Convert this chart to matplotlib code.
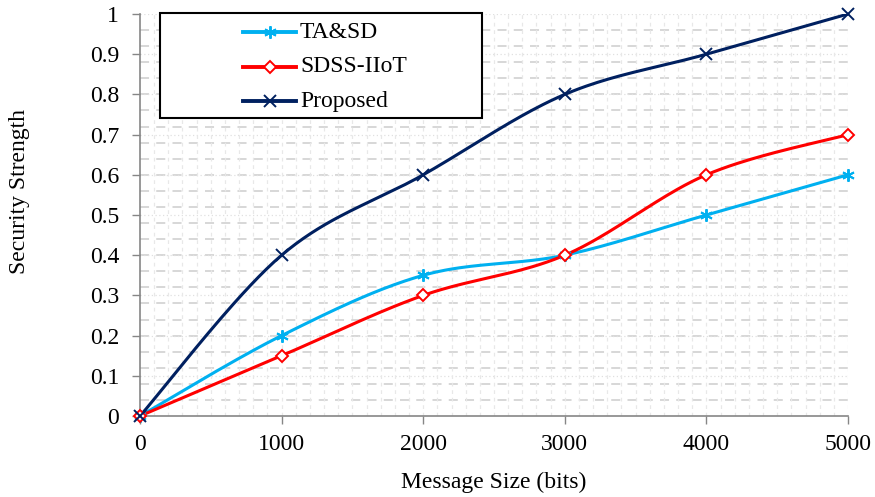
import numpy as np
import matplotlib
matplotlib.use("Agg")
import matplotlib.pyplot as plt
from matplotlib.patches import Rectangle
from matplotlib.lines import Line2D
from matplotlib.ticker import FixedLocator

# Data
message_size = [0, 1000, 2000, 3000, 4000, 5000]
ta_sd = [0, 0.2, 0.35, 0.4, 0.5, 0.6]
sdss_iiot = [0, 0.15, 0.3, 0.4, 0.6, 0.7]
proposed = [0, 0.4, 0.6, 0.8, 0.9, 1.0]
y_ticks = [0, 0.1, 0.2, 0.3, 0.4, 0.5, 0.6, 0.7, 0.8, 0.9, 1.0]
y_tick_labels = ["0", "0.1", "0.2", "0.3", "0.4", "0.5", "0.6", "0.7", "0.8", "0.9", "1"]
x_ticks = [0, 1000, 2000, 3000, 4000, 5000]

plt.rcParams["font.family"] = ["Liberation Serif", "DejaVu Serif"]

W, H = 875, 497


def fpos(x, y):
    """Pixel position (from top-left) to figure fraction."""
    return x / W, 1 - y / H


def smooth(xs, ys, n=40):
    """Catmull-Rom style smoothed curve through the points."""
    p = np.column_stack([xs, ys]).astype(float)
    ext = np.vstack([p[0], p, p[-1]])
    out = []
    for i in range(1, len(ext) - 2):
        p0, p1, p2, p3 = ext[i - 1], ext[i], ext[i + 1], ext[i + 2]
        c1 = p1 + (p2 - p0) / 6.0
        c2 = p2 - (p3 - p1) / 6.0
        t = np.linspace(0, 1, n)[:, None]
        seg = ((1 - t) ** 3) * p1 + 3 * ((1 - t) ** 2) * t * c1 + 3 * (1 - t) * t ** 2 * c2 + t ** 3 * p2
        out.append(seg if i == 1 else seg[1:])
    arr = np.vstack(out)
    return arr[:, 0], arr[:, 1]


fig = plt.figure(figsize=(W / 100, H / 100), dpi=100)
ax = fig.add_axes([140 / W, 81 / H, 708 / W, 402 / H])

ax.set_xlim(0, 5000)
ax.set_ylim(0, 1)

# Grid: dashed minor horizontal lines, dotted major lines, dotted vertical minor lines
for yv in np.arange(0.04, 1.0, 0.04):
    ax.axhline(yv, color="#D4D4D4", lw=1.3, ls=(0, (5, 4)), zorder=0)
for yv in y_ticks[1:]:
    ax.axhline(yv, color="#E0E0E0", lw=0.9, ls=(0, (1, 2)), zorder=0)
for xv in range(100, 5001, 100):
    ax.axvline(xv, color="#E8E8E8", lw=0.9, ls=(0, (3, 3)), zorder=0)

series = [
    ("TA&SD", ta_sd, "#00B0F0", (6, 2, 0), 9, "#00B0F0"),
    ("SDSS-IIoT", sdss_iiot, "#FF0000", "D", 6, "white"),
    ("Proposed", proposed, "#002060", "x", 8, "#002060"),
]
for name, vals, color, marker, ms, mfc in series:
    sx, sy = smooth(message_size, vals)
    ax.plot(sx, sy, color=color, lw=2.2, zorder=3)
    ax.plot(message_size, vals, ls="none", marker=marker, ms=ms, mec=color,
            mfc=mfc, mew=1.4, zorder=4, clip_on=False)

# Legend box drawn in figure space
x0, y0 = fpos(160, 118)
x1, y1 = fpos(482, 13)
fig.patches.append(Rectangle((x0, y0), x1 - x0, y1 - y0, transform=fig.transFigure,
                             facecolor="white", edgecolor="black", lw=1.5, zorder=10))
legend_rows = [32, 67, 101]
for (name, vals, color, marker, ms, mfc), ry in zip(series, legend_rows):
    lx0, ly = fpos(243, ry)
    lx1, _ = fpos(296, ry)
    fig.add_artist(Line2D([lx0, lx1], [ly, ly], transform=fig.transFigure, color=color,
                          lw=2.8, zorder=11))
    fig.add_artist(Line2D([(lx0 + lx1) / 2], [ly], transform=fig.transFigure, ls="none",
                          marker=marker, ms=ms, mec=color, mfc=mfc, mew=1.4, zorder=12))
    tx, ty = fpos(300, ry)
    fig.text(tx, ty, name, fontsize=17, va="center", ha="left", zorder=12)

ax.xaxis.set_major_locator(FixedLocator(x_ticks))
ax.set_xticklabels([str(v) for v in x_ticks])
ax.yaxis.set_major_locator(FixedLocator(y_ticks))
ax.set_yticklabels(y_tick_labels)
ax.tick_params(axis="both", which="major", labelsize=17, direction="out", length=6,
               width=1, color="#868686")
ax.tick_params(axis="x", pad=7)
ax.tick_params(axis="y", pad=9)

for s in ["top", "right"]:
    ax.spines[s].set_visible(False)
for s in ["left", "bottom"]:
    ax.spines[s].set_color("#868686")
    ax.spines[s].set_linewidth(1.2)

ax.set_xlabel("Message Size (bits)", fontsize=17, labelpad=12)
lx, ly = fpos(20, 192)
fig.text(lx, ly, "Security Strength", fontsize=17, rotation=90, ha="center", va="center")

fig.savefig("out.png", dpi=100)
